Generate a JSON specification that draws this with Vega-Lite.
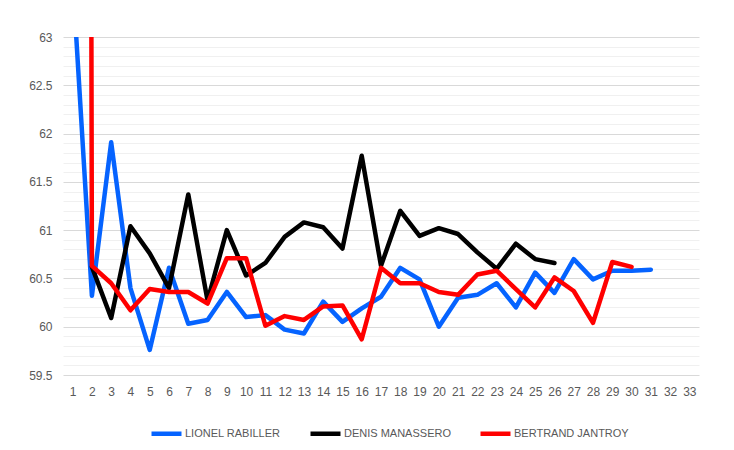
{
  "$schema": "https://vega.github.io/schema/vega-lite/v6.json",
  "width": 636,
  "height": 338,
  "autosize": {"type": "none"},
  "padding": {"left": 63, "top": 37, "right": 35, "bottom": 75},
  "background": "white",
  "config": {
    "view": {"stroke": null},
    "font": "Liberation Sans",
    "axis": {"labelColor": "#595959", "labelFontSize": 12, "labelFont": "Liberation Sans", "ticks": false, "domain": false}
  },
  "data": {
    "values": [
      {"lap": 1, "driver": "LIONEL RABILLER", "time": 63.62},
      {"lap": 2, "driver": "LIONEL RABILLER", "time": 60.32},
      {"lap": 3, "driver": "LIONEL RABILLER", "time": 61.91},
      {"lap": 4, "driver": "LIONEL RABILLER", "time": 60.4},
      {"lap": 5, "driver": "LIONEL RABILLER", "time": 59.76},
      {"lap": 6, "driver": "LIONEL RABILLER", "time": 60.61},
      {"lap": 7, "driver": "LIONEL RABILLER", "time": 60.03},
      {"lap": 8, "driver": "LIONEL RABILLER", "time": 60.07},
      {"lap": 9, "driver": "LIONEL RABILLER", "time": 60.36},
      {"lap": 10, "driver": "LIONEL RABILLER", "time": 60.1},
      {"lap": 11, "driver": "LIONEL RABILLER", "time": 60.12},
      {"lap": 12, "driver": "LIONEL RABILLER", "time": 59.97},
      {"lap": 13, "driver": "LIONEL RABILLER", "time": 59.93},
      {"lap": 14, "driver": "LIONEL RABILLER", "time": 60.26},
      {"lap": 15, "driver": "LIONEL RABILLER", "time": 60.05},
      {"lap": 16, "driver": "LIONEL RABILLER", "time": 60.19},
      {"lap": 17, "driver": "LIONEL RABILLER", "time": 60.31},
      {"lap": 18, "driver": "LIONEL RABILLER", "time": 60.61},
      {"lap": 19, "driver": "LIONEL RABILLER", "time": 60.49},
      {"lap": 20, "driver": "LIONEL RABILLER", "time": 60.0},
      {"lap": 21, "driver": "LIONEL RABILLER", "time": 60.3},
      {"lap": 22, "driver": "LIONEL RABILLER", "time": 60.33},
      {"lap": 23, "driver": "LIONEL RABILLER", "time": 60.45},
      {"lap": 24, "driver": "LIONEL RABILLER", "time": 60.2},
      {"lap": 25, "driver": "LIONEL RABILLER", "time": 60.56},
      {"lap": 26, "driver": "LIONEL RABILLER", "time": 60.35},
      {"lap": 27, "driver": "LIONEL RABILLER", "time": 60.7},
      {"lap": 28, "driver": "LIONEL RABILLER", "time": 60.49},
      {"lap": 29, "driver": "LIONEL RABILLER", "time": 60.58},
      {"lap": 30, "driver": "LIONEL RABILLER", "time": 60.58},
      {"lap": 31, "driver": "LIONEL RABILLER", "time": 60.59},
      {"lap": 2, "driver": "DENIS MANASSERO", "time": 60.62},
      {"lap": 3, "driver": "DENIS MANASSERO", "time": 60.09},
      {"lap": 4, "driver": "DENIS MANASSERO", "time": 61.04},
      {"lap": 5, "driver": "DENIS MANASSERO", "time": 60.76},
      {"lap": 6, "driver": "DENIS MANASSERO", "time": 60.4},
      {"lap": 7, "driver": "DENIS MANASSERO", "time": 61.37},
      {"lap": 8, "driver": "DENIS MANASSERO", "time": 60.27},
      {"lap": 9, "driver": "DENIS MANASSERO", "time": 61.0},
      {"lap": 10, "driver": "DENIS MANASSERO", "time": 60.53},
      {"lap": 11, "driver": "DENIS MANASSERO", "time": 60.66},
      {"lap": 12, "driver": "DENIS MANASSERO", "time": 60.93},
      {"lap": 13, "driver": "DENIS MANASSERO", "time": 61.08},
      {"lap": 14, "driver": "DENIS MANASSERO", "time": 61.03},
      {"lap": 15, "driver": "DENIS MANASSERO", "time": 60.81},
      {"lap": 16, "driver": "DENIS MANASSERO", "time": 61.77},
      {"lap": 17, "driver": "DENIS MANASSERO", "time": 60.63},
      {"lap": 18, "driver": "DENIS MANASSERO", "time": 61.2},
      {"lap": 19, "driver": "DENIS MANASSERO", "time": 60.94},
      {"lap": 20, "driver": "DENIS MANASSERO", "time": 61.02},
      {"lap": 21, "driver": "DENIS MANASSERO", "time": 60.96},
      {"lap": 22, "driver": "DENIS MANASSERO", "time": 60.77},
      {"lap": 23, "driver": "DENIS MANASSERO", "time": 60.6},
      {"lap": 24, "driver": "DENIS MANASSERO", "time": 60.86},
      {"lap": 25, "driver": "DENIS MANASSERO", "time": 60.7},
      {"lap": 26, "driver": "DENIS MANASSERO", "time": 60.66},
      {"lap": 1, "driver": "BERTRAND JANTROY", "time": 150},
      {"lap": 2, "driver": "BERTRAND JANTROY", "time": 60.63},
      {"lap": 3, "driver": "BERTRAND JANTROY", "time": 60.45},
      {"lap": 4, "driver": "BERTRAND JANTROY", "time": 60.17},
      {"lap": 5, "driver": "BERTRAND JANTROY", "time": 60.39},
      {"lap": 6, "driver": "BERTRAND JANTROY", "time": 60.36},
      {"lap": 7, "driver": "BERTRAND JANTROY", "time": 60.36},
      {"lap": 8, "driver": "BERTRAND JANTROY", "time": 60.24},
      {"lap": 9, "driver": "BERTRAND JANTROY", "time": 60.71},
      {"lap": 10, "driver": "BERTRAND JANTROY", "time": 60.71},
      {"lap": 11, "driver": "BERTRAND JANTROY", "time": 60.01},
      {"lap": 12, "driver": "BERTRAND JANTROY", "time": 60.11},
      {"lap": 13, "driver": "BERTRAND JANTROY", "time": 60.07},
      {"lap": 14, "driver": "BERTRAND JANTROY", "time": 60.21},
      {"lap": 15, "driver": "BERTRAND JANTROY", "time": 60.22},
      {"lap": 16, "driver": "BERTRAND JANTROY", "time": 59.87},
      {"lap": 17, "driver": "BERTRAND JANTROY", "time": 60.61},
      {"lap": 18, "driver": "BERTRAND JANTROY", "time": 60.45},
      {"lap": 19, "driver": "BERTRAND JANTROY", "time": 60.45},
      {"lap": 20, "driver": "BERTRAND JANTROY", "time": 60.36},
      {"lap": 21, "driver": "BERTRAND JANTROY", "time": 60.33},
      {"lap": 22, "driver": "BERTRAND JANTROY", "time": 60.54},
      {"lap": 23, "driver": "BERTRAND JANTROY", "time": 60.58},
      {"lap": 24, "driver": "BERTRAND JANTROY", "time": 60.39},
      {"lap": 25, "driver": "BERTRAND JANTROY", "time": 60.2},
      {"lap": 26, "driver": "BERTRAND JANTROY", "time": 60.51},
      {"lap": 27, "driver": "BERTRAND JANTROY", "time": 60.37},
      {"lap": 28, "driver": "BERTRAND JANTROY", "time": 60.04},
      {"lap": 29, "driver": "BERTRAND JANTROY", "time": 60.67},
      {"lap": 30, "driver": "BERTRAND JANTROY", "time": 60.62}
    ]
  },
  "encoding": {
    "x": {
      "field": "lap", "type": "quantitative",
      "scale": {"domain": [0.5, 33.5], "nice": false, "zero": false},
      "axis": {"title": null, "grid": false, "values": [1,2,3,4,5,6,7,8,9,10,11,12,13,14,15,16,17,18,19,20,21,22,23,24,25,26,27,28,29,30,31,32,33], "labelPadding": 11, "labelFlush": false}
    },
    "y": {
      "field": "time", "type": "quantitative",
      "scale": {"domain": [59.5, 63], "nice": false, "zero": false},
      "axis": {
        "title": null,
        "values": [59.5,59.6,59.7,59.8,59.9,60,60.1,60.2,60.3,60.4,60.5,60.6,60.7,60.8,60.9,61,61.1,61.2,61.3,61.4,61.5,61.6,61.7,61.8,61.9,62,62.1,62.2,62.3,62.4,62.5,62.6,62.7,62.8,62.9,63],
        "labelExpr": "abs(datum.value*2 - round(datum.value*2)) < 0.001 ? format(datum.value, '.1~f') : ''",
        "labelPadding": 11,
        "labelFlush": false,
        "grid": true,
        "gridColor": {"condition": {"test": "abs(datum.value*2 - round(datum.value*2)) < 0.001", "value": "#d9d9d9"}, "value": "#f0f0f0"},
        "gridWidth": 1
      }
    },
    "color": {
      "field": "driver", "type": "nominal",
      "scale": {"domain": ["LIONEL RABILLER", "DENIS MANASSERO", "BERTRAND JANTROY"], "range": ["#0563ff", "#000000", "#ff0000"]},
      "legend": {
        "title": null, "orient": "none", "direction": "horizontal",
        "legendX": 86, "legendY": 379,
        "symbolType": "stroke", "symbolSize": 900, "symbolStrokeWidth": 4.5,
        "labelColor": "#595959", "labelFontSize": 11, "labelFont": "Liberation Sans", "labelOffset": 1,
        "columnPadding": 20
      }
    }
  },
  "layer": [
    {"transform": [{"filter": "datum.driver === 'LIONEL RABILLER'"}], "mark": {"type": "line", "clip": true, "strokeWidth": 4.5, "strokeJoin": "round", "strokeCap": "round"}},
    {"transform": [{"filter": "datum.driver === 'DENIS MANASSERO'"}], "mark": {"type": "line", "clip": true, "strokeWidth": 4.5, "strokeJoin": "round", "strokeCap": "round"}},
    {"transform": [{"filter": "datum.driver === 'BERTRAND JANTROY'"}], "mark": {"type": "line", "clip": true, "strokeWidth": 4.5, "strokeJoin": "round", "strokeCap": "round"}}
  ]
}
